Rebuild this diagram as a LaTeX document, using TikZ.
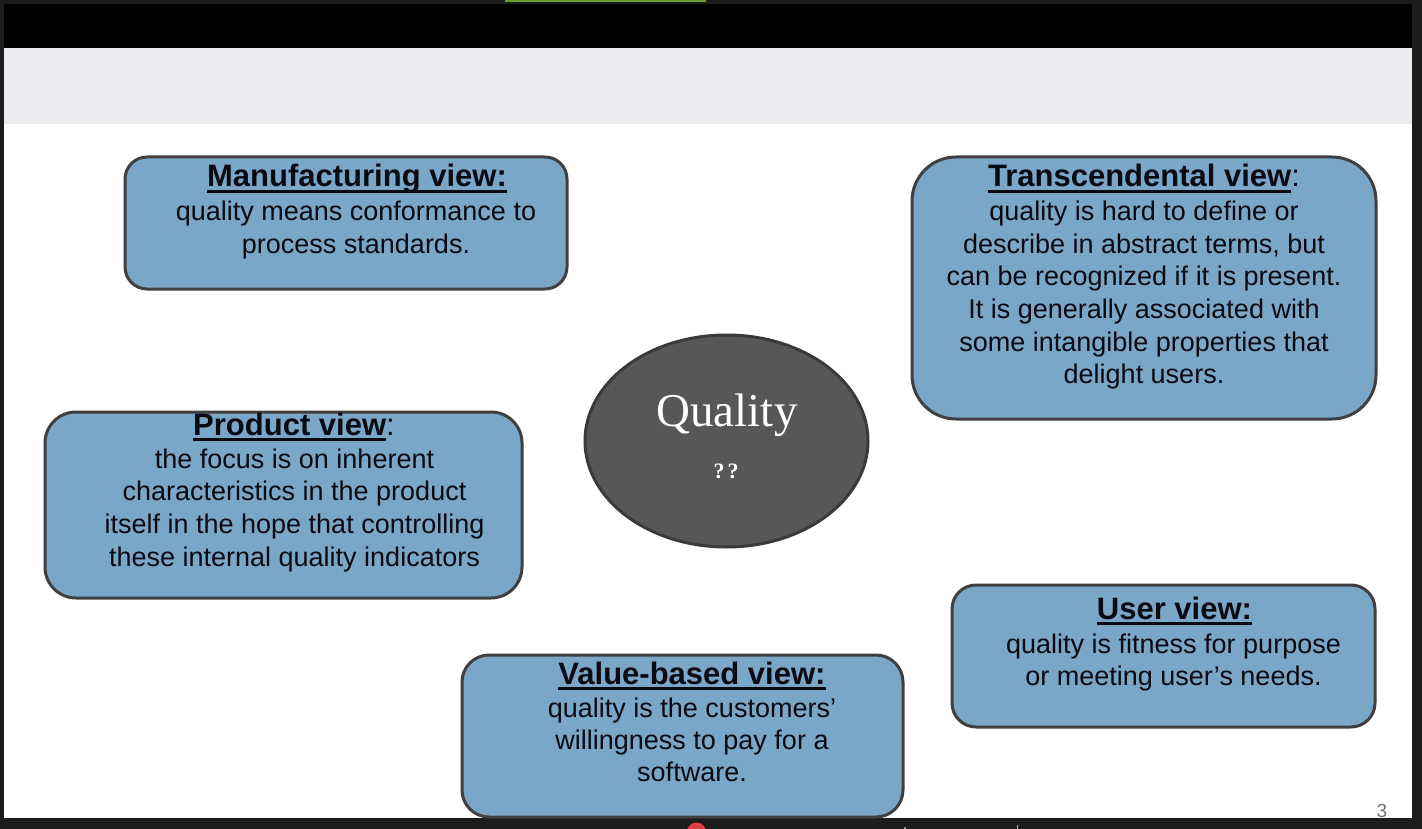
\documentclass[tikz,border=0pt]{standalone}
\usepackage{fontspec}
\setmainfont{Liberation Sans}
\newfontfamily\qualityserif{Liberation Serif}
\usetikzlibrary{shapes.geometric}

\definecolor{framegrey}{HTML}{1C1C1C}
\definecolor{headband}{HTML}{000000}
\definecolor{subband}{HTML}{EBEBEF}
\definecolor{boxfill}{HTML}{7AA6C8}
\definecolor{boxline}{HTML}{404040}
\definecolor{ovalfill}{HTML}{575757}
\definecolor{ovalline}{HTML}{3A3A3A}
\definecolor{ink}{HTML}{0A0A12}
\definecolor{tabgreen}{HTML}{6A9A3C}
\definecolor{dotred}{HTML}{E0403F}
\definecolor{pagegrey}{HTML}{707070}

% underline drawn as a heavy rule under the text
\newsavebox\ulsave
\newcommand\ulbox[1]{\sbox\ulsave{#1}\rlap{\rule[-5.6pt]{\wd\ulsave}{2.4pt}}\usebox\ulsave}

\tikzset{
  viewbox/.style={draw=boxline, fill=boxfill, line width=3pt, inner sep=0pt},
  viewtitle/.style={anchor=base, inner sep=0pt, text=ink,
    font=\fontsize{31}{36}\selectfont\bfseries},
  viewbody/.style={anchor=north, inner sep=0pt, text=ink, align=center,
    font=\fontsize{27}{32.7}\selectfont},
}

\begin{document}
\begin{tikzpicture}[x=1pt,y=-1pt]
  \useasboundingbox (0,0) rectangle (1422,829);

  % window frame and slide background
  \fill[framegrey] (0,0) rectangle (1422,829);
  \fill[tabgreen] (505,0) rectangle (706,2.5);
  \fill[headband] (4,4) rectangle (1412,48);
  \fill[subband] (4,48) rectangle (1412,124);
  \fill[white] (4,124) rectangle (1412,818);
  \fill[dotred] (696.5,832) circle (9.5);
  \draw[gray!60, line width=1pt] (1017,825) -- (1017,829);
  \fill[gray!60] (905,828) circle (1.2);

  % central oval
  \node[ellipse, draw=ovalline, fill=ovalfill, line width=3pt, inner sep=0pt,
        minimum width=283pt, minimum height=212pt] (core) at (726.5,441) {};
  \node[anchor=base, inner sep=0pt, text=white,
        font=\qualityserif\fontsize{47}{52}\selectfont] (qword) at (727,426) {Quality};
  \node[anchor=base, inner sep=0pt, text=white,
        font=\qualityserif\bfseries\fontsize{22}{24}\selectfont] (qmarks) at (726,478)
        {?\kern3pt?};

  % manufacturing view
  \node[viewbox, rounded corners=22pt, minimum width=442pt, minimum height=132pt]
    (mfgbox) at (346,223) {};
  \node[viewtitle] (mfgtitle) at (357,187) {\ulbox{Manufacturing view:}};
  \node[viewbody] (mfgtext) at (356,200.6)
    {quality means conformance to\\process standards.};

  % transcendental view
  \node[viewbox, rounded corners=44pt, minimum width=464pt, minimum height=262pt]
    (transbox) at (1144,288) {};
  \node[viewtitle] (transtitle) at (1144,187)
    {\ulbox{Transcendental view}\mdseries:};
  \node[viewbody] (transtext) at (1144,200.6)
    {quality is hard to define or\\describe in abstract terms, but\\
     can be recognized if it is present.\\It is generally associated with\\
     some intangible properties that\\delight users.};

  % product view
  \node[viewbox, rounded corners=31pt, minimum width=477pt, minimum height=186pt]
    (prodbox) at (283.5,505) {};
  \node[viewtitle] (prodtitle) at (294,435) {\ulbox{Product view}\mdseries:};
  \node[viewbody] (prodtext) at (294.5,448.4)
    {the focus is on inherent\\characteristics in the product\\
     itself in the hope that controlling\\these internal quality indicators};

  % user view
  \node[viewbox, rounded corners=24pt, minimum width=423pt, minimum height=142pt]
    (userbox) at (1163.5,656) {};
  \node[viewtitle] (usertitle) at (1174.5,619) {\ulbox{User view:}};
  \node[viewbody] (usertext) at (1173.5,633.4)
    {quality is fitness for purpose\\or meeting user’s needs.};

  % value-based view
  \node[viewbox, rounded corners=27pt, minimum width=441pt, minimum height=162pt]
    (valuebox) at (682.5,736) {};
  \node[viewtitle] (valuetitle) at (692,684) {\ulbox{Value-based view:}};
  \node[viewbody, font=\fontsize{27}{32}\selectfont] (valuetext) at (692,697.4)
    {quality is the customers’\\willingness to pay for a\\software.};

  % slide number
  \node[anchor=base, inner sep=0pt, text=pagegrey,
        font=\fontsize{19}{22}\selectfont] (pagenum) at (1382,817) {3};
\end{tikzpicture}
\end{document}
